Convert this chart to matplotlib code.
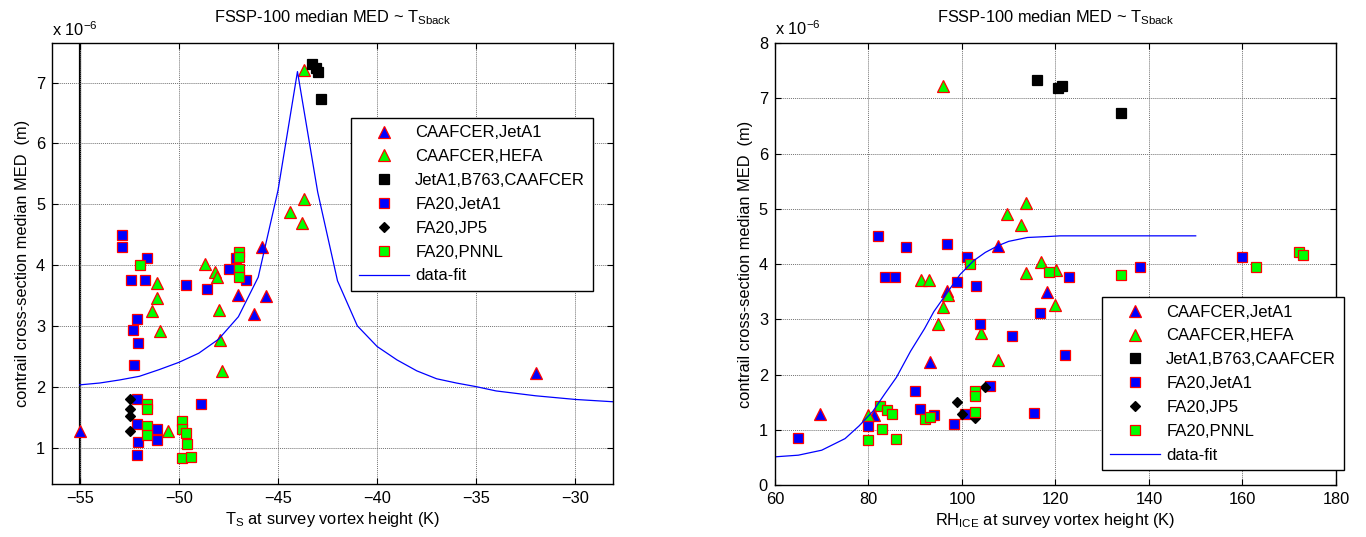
import matplotlib
matplotlib.use("Agg")
import matplotlib.pyplot as plt

plt.rcParams['font.family'] = ['Liberation Sans', 'DejaVu Sans']
plt.rcParams['mathtext.default'] = 'regular'
plt.rcParams['font.size'] = 11.5

# ---- left panel: T_S (K) vs MED (x 1e-6 m) ----
ts_jeta1_x = [-55.0, -47.0, -45.6, -46.2, -45.8, -32.0]
ts_jeta1_y = [1.27, 3.50, 3.49, 3.20, 4.30, 2.22]

ts_hefa_x = [-43.7, -43.7, -44.4, -43.8, -48.7, -48.2, -48.1, -48.0, -47.95,
             -47.85, -51.1, -51.1, -51.35, -50.95, -50.55]
ts_hefa_y = [7.21, 5.08, 4.88, 4.69, 4.02, 3.89, 3.81, 3.26, 2.77,
             2.26, 3.70, 3.46, 3.24, 2.92, 1.27]

ts_b763_x = [-43.3, -43.1, -42.97, -42.85]
ts_b763_y = [7.31, 7.24, 7.17, 6.73]

ts_fa20jet_x = [-52.87, -52.87, -51.62, -52.42, -51.69, -52.13, -52.34, -52.08,
                -52.27, -52.10, -52.10, -52.08, -52.10, -51.11, -51.11, -49.66,
                -48.57, -48.90, -47.48, -47.10, -46.63]
ts_fa20jet_y = [4.50, 4.29, 4.12, 3.76, 3.76, 3.12, 2.93, 2.71,
                2.36, 1.80, 1.38, 1.09, 0.88, 1.30, 1.12, 3.67,
                3.60, 1.72, 3.94, 4.11, 3.75]

ts_jp5_x = [-52.47, -52.47, -52.47, -52.47]
ts_jp5_y = [1.80, 1.64, 1.51, 1.27]

ts_pnnl_x = [-51.96, -51.62, -51.62, -51.62, -51.62, -49.83, -49.83, -49.62,
             -49.57, -49.83, -49.40, -46.96, -46.96, -46.96, -46.96]
ts_pnnl_y = [4.00, 1.71, 1.63, 1.36, 1.20, 1.44, 1.30, 1.24,
             1.05, 0.83, 0.84, 4.21, 4.13, 3.94, 3.81]

ts_fit_x = [-55, -54, -53, -52, -51, -50, -49, -48, -47, -46, -45, -44.02,
            -43, -42, -41, -40, -39, -38, -37, -36, -35, -34, -33, -32,
            -31, -30, -29, -28]
ts_fit_y = [2.03, 2.06, 2.11, 2.17, 2.28, 2.40, 2.55, 2.78, 3.15, 3.80, 5.23, 7.18,
            5.20, 3.74, 3.00, 2.66, 2.44, 2.26, 2.13, 2.06, 2.00, 1.93, 1.89, 1.85,
            1.82, 1.79, 1.77, 1.75]

# ---- right panel: RH_ICE vs MED ----
rh_jeta1_x = [69.6, 81.1, 93.1, 96.8, 107.7, 118.3]
rh_jeta1_y = [1.28, 1.26, 2.22, 3.52, 4.32, 3.49]

rh_hefa_x = [95.9, 109.6, 113.8, 112.7, 117.0, 113.8, 120.1, 119.9,
             91.2, 93.0, 97.0, 96.0, 94.9, 104.0, 107.8, 80.0]
rh_hefa_y = [7.23, 4.90, 5.10, 4.71, 4.04, 3.83, 3.90, 3.25,
             3.71, 3.71, 3.44, 3.23, 2.91, 2.76, 2.27, 1.26]

rh_b763_x = [116.1, 120.6, 121.3, 134.1]
rh_b763_y = [7.33, 7.18, 7.23, 6.73]

rh_fa20jet_x = [65.0, 80.0, 82.0, 88.1, 96.7, 101.0, 83.5, 85.7, 99.0, 103.0,
                103.8, 110.8, 122.0, 116.6, 122.8, 138.1, 160.0, 90.0, 91.0,
                94.0, 98.3, 100.6, 105.9, 115.5]
rh_fa20jet_y = [0.86, 1.07, 4.51, 4.30, 4.36, 4.13, 3.76, 3.76, 3.67, 3.60,
                2.92, 2.70, 2.36, 3.12, 3.76, 3.94, 4.13, 1.70, 1.38,
                1.26, 1.11, 1.28, 1.80, 1.30]

rh_jp5_x = [99.0, 100.0, 102.7, 105.0]
rh_jp5_y = [1.51, 1.28, 1.22, 1.77]

rh_pnnl_x = [101.7, 118.6, 134.1, 163.0, 172.0, 173.0, 82.5, 84.0, 85.0,
             80.0, 83.0, 86.0, 92.0, 93.1, 102.7, 102.7, 102.7]
rh_pnnl_y = [4.00, 3.86, 3.81, 3.95, 4.22, 4.17, 1.43, 1.36, 1.28,
             0.82, 1.02, 0.84, 1.19, 1.24, 1.71, 1.61, 1.32]

rh_fit_x = [60, 65, 70, 75, 78, 81, 83.5, 86, 89, 92, 94, 97, 99.6, 102.5,
            105, 107.7, 110, 114, 119, 121, 150]
rh_fit_y = [0.51, 0.54, 0.63, 0.84, 1.07, 1.34, 1.65, 1.95, 2.42, 2.83, 3.14,
            3.50, 3.81, 4.06, 4.21, 4.33, 4.41, 4.48, 4.50, 4.51, 4.51]

labels = ['CAAFCER,JetA1', 'CAAFCER,HEFA', 'JetA1,B763,CAAFCER',
          'FA20,JetA1', 'FA20,JP5', 'FA20,PNNL', 'data-fit']

red = '#ff0000'
styles = [
    dict(marker='^', ms=8.5, mfc='#0000ff', mec=red, mew=0.9),
    dict(marker='^', ms=8.5, mfc='#00ff00', mec=red, mew=0.9),
    dict(marker='s', ms=6.5, mfc='k', mec='k', mew=0.9),
    dict(marker='s', ms=6.5, mfc='#0000ff', mec=red, mew=0.9),
    dict(marker='D', ms=5.3, mfc='k', mec='k', mew=0.9),
    dict(marker='s', ms=6.5, mfc='#00ff00', mec=red, mew=0.9),
]

FS = 11.8


def draw(ax, series, fit_x, fit_y):
    for (x, y), st, lab in zip(series, styles, labels):
        ax.plot(x, y, linestyle='none', label=lab, **st)
    ax.plot(fit_x, fit_y, color='#0000ff', lw=0.9, label=labels[-1])
    ax.grid(True, color='0.45', linestyle=(0, (1, 1)), lw=0.7)
    ax.tick_params(direction='in', top=True, right=True, length=4,
                   labelsize=FS, pad=5)
    for s in ax.spines.values():
        s.set_linewidth(1.0)
    ax.set_title(r'FSSP-100 median MED ~ T$_{Sback}$', fontsize=FS, pad=15)
    ax.text(0.0, 1.017, r'x 10$^{-6}$', transform=ax.transAxes, fontsize=FS,
            ha='left', va='baseline')
    ax.set_ylabel('contrail cross-section median MED  (m)', fontsize=FS,
                  labelpad=4)


fig = plt.figure(figsize=(13.66, 5.37), dpi=100)
ax1 = fig.add_axes([0.0381, 0.0987, 0.4107, 0.8212])
ax2 = fig.add_axes([0.5673, 0.0968, 0.4107, 0.8231])

draw(ax1, [(ts_jeta1_x, ts_jeta1_y), (ts_hefa_x, ts_hefa_y), (ts_b763_x, ts_b763_y),
           (ts_fa20jet_x, ts_fa20jet_y), (ts_jp5_x, ts_jp5_y), (ts_pnnl_x, ts_pnnl_y)],
     ts_fit_x, ts_fit_y)
ax1.axvline(-55, color='k', lw=1.6, zorder=1)
ax1.set_xlim(-56.4, -28.1)
ax1.set_ylim(0.4, 7.65)
ax1.set_xticks([-55, -50, -45, -40, -35, -30])
ax1.set_yticks([1, 2, 3, 4, 5, 6, 7])
ax1.set_xlabel(r'T$_S$ at survey vortex height (K)', fontsize=FS, labelpad=3)

draw(ax2, [(rh_jeta1_x, rh_jeta1_y), (rh_hefa_x, rh_hefa_y), (rh_b763_x, rh_b763_y),
           (rh_fa20jet_x, rh_fa20jet_y), (rh_jp5_x, rh_jp5_y), (rh_pnnl_x, rh_pnnl_y)],
     rh_fit_x, rh_fit_y)
ax2.set_xlim(60, 180)
ax2.set_ylim(0, 8)
ax2.set_xticks([60, 80, 100, 120, 140, 160, 180])
ax2.set_yticks(range(0, 9))
ax2.set_xlabel(r'RH$_{ICE}$ at survey vortex height (K)', fontsize=FS, labelpad=3)

leg_kw = dict(loc='upper left', borderaxespad=0, fancybox=False, framealpha=1,
              edgecolor='k', fontsize=12, handlelength=3.0, handletextpad=0.4,
              labelspacing=0.53, borderpad=0.45)
lg1 = ax1.legend(bbox_to_anchor=(0.533, 0.830), **leg_kw)
lg2 = ax2.legend(bbox_to_anchor=(0.583, 0.425), **leg_kw)
for lg in (lg1, lg2):
    lg.get_frame().set_linewidth(1.0)
    lg.set_zorder(10)

fig.savefig('out.png', dpi=100)
